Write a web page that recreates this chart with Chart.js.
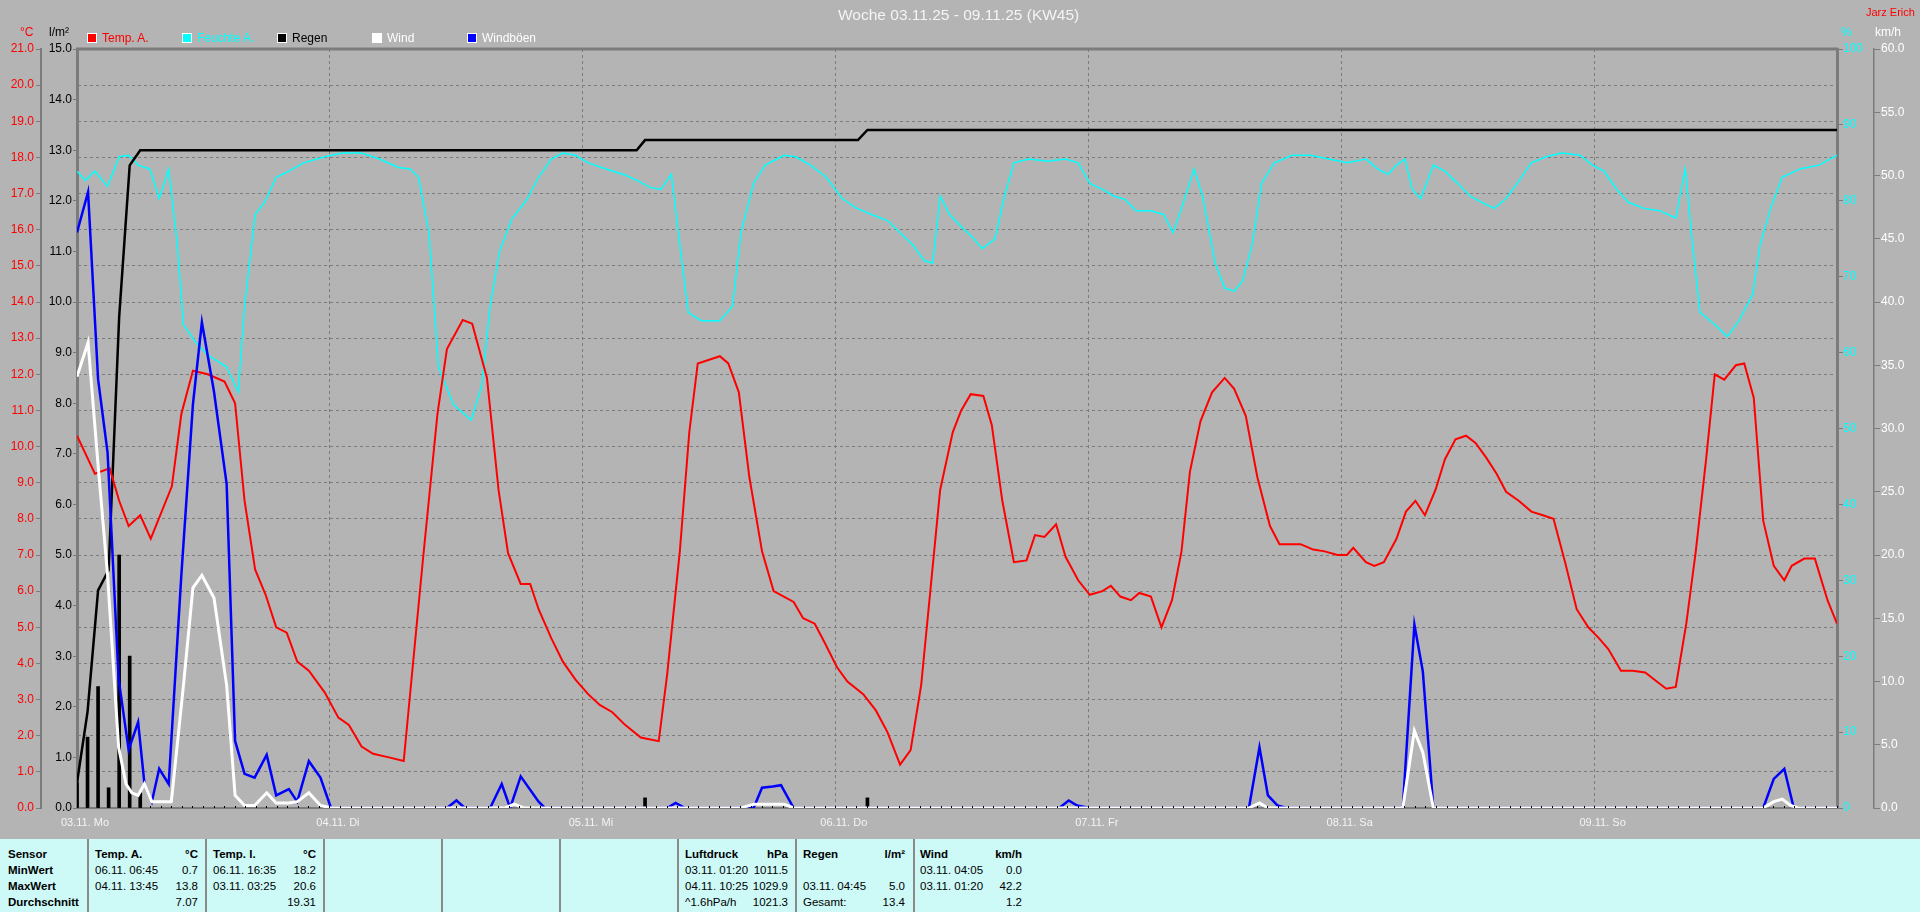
<!DOCTYPE html>
<html>
<head>
<meta charset="utf-8">
<title>Woche 03.11.25 - 09.11.25 (KW45)</title>
<script src="https://cdn.jsdelivr.net/npm/chart.js@4.4.1/dist/chart.umd.min.js"></script>
<style>
  body { margin: 0; background: #b4b4b4; overflow: hidden; }
  #wrap {
    position: relative; width: 1920px; height: 912px; background: #b4b4b4;
    font-family: "Liberation Sans", Arial, sans-serif;
  }
  #chart { position: absolute; left: 0; top: 0; }
  .t { position: absolute; white-space: pre; font-size: 12px; line-height: 16px; }
  .sq { position: absolute; width: 8px; height: 8px; border: 1px solid #fff; }
  #table { position: absolute; left: 0; top: 839px; width: 1920px; height: 73px; background: #cdf9f6; }
  #table .t { font-size: 11.5px; color: #000; }
  .sep { position: absolute; top: 0; width: 2px; height: 73px; background: #8a8a8a; }
  .b { font-weight: bold; }
</style>
</head>
<body>
<div id="wrap">
  <canvas id="chart" width="1920" height="839"></canvas>
  <div class="t" style="left:838px;top:6px;font-size:15.5px;line-height:18px;color:#f4f4f4">Woche 03.11.25 - 09.11.25 (KW45)</div>
  <div class="t" style="left:1866px;top:4px;font-size:11px;color:#ff0000">Jarz Erich</div>
  <div class="t" style="left:20px;top:24px;color:#ff0000">°C</div>
  <div class="t" style="left:49px;top:24px;color:#000">l/m²</div>
  <div class="t" style="left:1841px;top:24px;color:#00ffff">%</div>
  <div class="t" style="left:1875px;top:24px;color:#ffffff">km/h</div>
  <div id="legend"></div>
  <div id="table"></div>
</div>
<script>
// x values are hours since 03.11. 00:00
const dayLabels = ["03.11. Mo", "04.11. Di", "05.11. Mi", "06.11. Do", "07.11. Fr", "08.11. Sa", "09.11. So"];

// Temp. A. (°C)
const tempHours = [
  0, 1.7, 3.1, 4.0, 4.9, 6.0, 7.0, 9.0, 9.9, 11.0,
  12.4, 14.0, 15.0, 15.9, 16.9, 17.9, 18.9, 19.9, 20.9, 22.0,
  23.5, 24.8, 25.8, 27.0, 28.1, 29.6, 31.0, 32.8, 34.2, 35.1,
  36.6, 37.5, 38.9, 40.0, 40.9, 42.1, 43.0, 43.8, 45.0, 46.1,
  47.3, 48.5, 49.6, 50.8, 52.0, 53.5, 54.3, 55.2, 56.0, 57.2,
  58.1, 58.9, 61.0, 61.8, 62.8, 63.8, 65.0, 66.1, 68.0, 68.9,
  70.0, 70.9, 72.1, 73.1, 74.6, 75.8, 76.9, 78.1, 79.1, 80.1,
  81.0, 81.9, 83.1, 83.9, 84.8, 86.0, 86.8, 87.8, 88.9, 90.1,
  90.9, 91.8, 92.9, 93.8, 95.0, 96.1, 97.3, 98.1, 99.0, 100.0,
  100.8, 101.9, 102.9, 103.9, 104.8, 105.6, 106.6, 107.7, 108.9, 109.8,
  110.9, 112.0, 113.2, 114.1, 115.3, 116.1, 117.3, 118.4, 119.6, 120.5,
  121.1, 122.3, 123.1, 124.0, 125.2, 126.1, 127.0, 127.9, 128.9, 129.8,
  130.8, 131.8, 132.7, 133.7, 134.7, 135.6, 136.8, 138.0, 139.1, 140.1,
  141.2, 142.3, 143.4, 144.4, 145.3, 146.5, 147.6, 148.8, 149.9, 150.8,
  151.7, 152.7, 153.6, 154.6, 155.4, 156.3, 157.4, 158.2, 159.1, 160.0,
  161.0, 162.0, 162.7, 163.9, 164.9, 166.1, 167.0
];
const tempValues = [
  10.3, 9.25, 9.4, 8.5, 7.8, 8.1, 7.45, 8.9, 10.9, 12.1,
  12.0, 11.8, 11.2, 8.5, 6.6, 5.9, 5.0, 4.85, 4.05, 3.8,
  3.2, 2.5, 2.3, 1.7, 1.5, 1.4, 1.3, 6.8, 10.9, 12.7,
  13.5, 13.4, 11.9, 8.8, 7.05, 6.2, 6.2, 5.5, 4.7, 4.05,
  3.55, 3.15, 2.85, 2.65, 2.3, 1.95, 1.9, 1.85, 3.7, 7.1,
  10.4, 12.3, 12.5, 12.3, 11.5, 9.15, 7.1, 6.0, 5.7, 5.25,
  5.1, 4.6, 3.9, 3.5, 3.15, 2.7, 2.1, 1.2, 1.6, 3.4,
  6.1, 8.8, 10.4, 11.0, 11.45, 11.4, 10.6, 8.5, 6.8, 6.85,
  7.55, 7.5, 7.85, 6.95, 6.3, 5.9, 6.0, 6.15, 5.85, 5.75,
  5.95, 5.85, 5.0, 5.75, 7.1, 9.3, 10.7, 11.5, 11.9, 11.6,
  10.85, 9.15, 7.8, 7.3, 7.3, 7.3, 7.15, 7.1, 7.0, 7.0,
  7.2, 6.8, 6.7, 6.8, 7.45, 8.2, 8.5, 8.1, 8.8, 9.65,
  10.2, 10.3, 10.1, 9.7, 9.25, 8.75, 8.5, 8.2, 8.1, 8.0,
  6.8, 5.5, 5.0, 4.7, 4.4, 3.8, 3.8, 3.75, 3.5, 3.3,
  3.35, 5.1, 7.1, 9.7, 12.0, 11.85, 12.25, 12.3, 11.35, 7.95,
  6.7, 6.3, 6.7, 6.9, 6.9, 5.75, 5.1
];

// Feuchte A. (%)
const humHours = [
  0, 0.8, 1.7, 2.9, 4.0, 4.9, 5.8, 6.9, 7.8, 8.7,
  9.5, 10.1, 11.3, 12.4, 14.2, 15.3, 15.9, 16.9, 17.8, 18.9,
  20.1, 21.5, 23.5, 25.2, 27.0, 28.7, 30.5, 31.6, 32.4, 33.4,
  34.3, 35.7, 37.4, 38.4, 39.2, 40.1, 41.3, 42.7, 43.8, 45.0,
  46.1, 47.3, 48.5, 50.2, 52.0, 53.3, 54.3, 55.4, 56.4, 57.2,
  58.0, 59.2, 61.0, 62.2, 63.0, 64.2, 65.3, 67.1, 68.2, 69.6,
  71.1, 72.6, 74.0, 75.4, 76.9, 78.1, 79.3, 80.4, 81.2, 81.9,
  82.8, 83.9, 85.1, 85.9, 87.1, 88.0, 88.9, 90.3, 92.1, 93.8,
  95.0, 96.1, 97.3, 98.4, 99.4, 100.5, 101.9, 103.1, 104.0, 104.8,
  106.0, 106.8, 108.0, 108.9, 109.8, 110.6, 111.5, 112.4, 113.6, 115.3,
  117.0, 118.8, 120.5, 122.3, 123.4, 124.4, 125.2, 126.0, 126.7, 127.5,
  128.7, 129.8, 131.0, 132.2, 133.3, 134.5, 135.6, 136.8, 138.0, 139.4,
  140.9, 142.6, 143.8, 144.9, 146.1, 147.2, 148.7, 150.2, 151.7, 152.6,
  153.3, 154.0, 155.4, 156.6, 157.7, 159.0, 159.7, 160.7, 161.8, 163.5,
  165.3, 167.0
];
const humValues = [
  83.9, 82.7, 83.9, 81.9, 85.8, 86.0, 84.7, 84.2, 80.3, 84.2,
  74.5, 63.7, 61.3, 59.7, 58.1, 54.8, 66.1, 78.2, 79.8, 83.1,
  83.9, 85.0, 85.8, 86.3, 86.3, 85.5, 84.4, 84.2, 83.1, 75.8,
  58.1, 53.2, 51.1, 55.6, 66.1, 73.4, 77.7, 80.2, 83.1, 85.5,
  86.3, 86.0, 85.0, 84.2, 83.4, 82.6, 81.8, 81.5, 83.5, 74.2,
  65.3, 64.2, 64.2, 66.1, 75.8, 82.3, 84.7, 86.0, 85.8, 84.7,
  83.1, 80.3, 79.0, 78.2, 77.4, 75.8, 74.2, 72.1, 71.8, 80.6,
  78.2, 76.6, 75.0, 73.7, 75.0, 80.6, 85.0, 85.5, 85.2, 85.5,
  85.0, 82.3, 81.5, 80.6, 80.2, 78.7, 78.7, 78.2, 75.8, 79.0,
  84.2, 80.6, 71.8, 68.5, 68.1, 69.4, 74.2, 82.3, 85.0, 86.0,
  86.0, 85.5, 85.0, 85.5, 84.2, 83.5, 84.7, 85.5, 81.5, 80.3,
  84.7, 83.9, 82.3, 80.6, 79.8, 79.0, 80.3, 82.6, 85.0, 85.8,
  86.3, 86.0, 84.7, 83.9, 81.5, 79.8, 79.0, 78.7, 77.7, 84.2,
  74.2, 65.3, 63.7, 62.1, 64.2, 67.7, 74.2, 79.0, 83.1, 84.2,
  84.7, 86.0
];

// Regen: hourly amount (bars) and running total (line), l/m²
const rainBarHours = [0, 1, 2, 3, 4, 5, 6, 53.9, 75.0];
const rainBarValues = [0.5, 1.4, 2.4, 0.4, 5.0, 3.0, 0.3, 0.2, 0.2];
const rainSumHours = [0, 1, 2, 3, 4, 5, 6, 53.1, 53.9, 74.1, 75.0, 167];
const rainSumValues = [0.5, 1.9, 4.3, 4.7, 9.7, 12.7, 13.0, 13.0, 13.2, 13.2, 13.4, 13.4];

// Wind (km/h)
const windHours = [
  0, 1.05, 2.0, 2.9, 3.95, 4.65, 5.2, 5.8, 6.4, 7.1,
  8.95, 10.1, 11.0, 11.85, 13.0, 14.2, 15.0, 15.9, 16.85, 18.0,
  18.9, 20.1, 20.9, 22.0, 23.1, 24.1, 40.6, 41.5, 42.4, 63.0,
  64.2, 67.1, 68.0, 111.2, 112.2, 113.0, 125.8, 126.9, 127.7, 128.7,
  160.0, 161.0, 161.8, 162.6, 163.3, 167.0
];
const windValues = [
  34.1, 36.8, 27.1, 18.4, 4.8, 1.9, 1.2, 1.0, 1.9, 0.5,
  0.5, 9.7, 17.4, 18.4, 16.6, 9.7, 1.0, 0.2, 0.2, 1.2,
  0.4, 0.4, 0.5, 1.2, 0.2, 0, 0, 0.3, 0, 0,
  0.3, 0.3, 0, 0, 0.4, 0, 0, 6.1, 4.4, 0,
  0, 0.5, 0.7, 0.2, 0, 0
];

// Windböen (km/h)
const gustHours = [
  0, 1.05, 2.0, 2.9, 3.95, 4.9, 5.8, 6.4, 7.1, 7.8,
  8.7, 9.9, 11.0, 11.85, 13.0, 14.2, 15.0, 15.9, 16.85, 18.0,
  18.9, 20.1, 20.9, 22.0, 23.1, 24.1, 35.1, 36.0, 36.8, 39.2,
  40.3, 41.1, 42.1, 43.8, 44.4, 56.0, 56.8, 57.7, 64.2, 65.0,
  66.0, 66.8, 68.0, 93.2, 94.1, 94.9, 96.1, 111.2, 112.2, 113.0,
  113.9, 114.8, 125.8, 126.9, 127.7, 128.7, 160.0, 161.0, 162.0, 162.9,
  167.0
];
const gustValues = [
  45.5, 48.7, 33.9, 28.1, 10.2, 4.6, 6.8, 1.9, 0.5, 3.1,
  1.9, 18.4, 31.9, 38.4, 32.9, 25.6, 5.3, 2.7, 2.4, 4.2,
  1.0, 1.5, 0.5, 3.7, 2.4, 0, 0, 0.6, 0, 0,
  1.9, 0, 2.5, 0.5, 0, 0, 0.4, 0, 0, 1.6,
  1.7, 1.8, 0, 0, 0.6, 0.2, 0, 0, 4.8, 1.0,
  0.2, 0, 0, 14.5, 10.8, 0, 0, 2.3, 3.1, 0,
  0
];

const legendItems = [
  {label: "Temp. A.", color: "#ff0000", text: "#ff0000"},
  {label: "Feuchte A.", color: "#00ffff", text: "#00ffff"},
  {label: "Regen", color: "#000000", text: "#000000"},
  {label: "Wind", color: "#ffffff", text: "#ffffff"},
  {label: "Windböen", color: "#0000ff", text: "#ffffff"}
];

const gridGray = "#7c7c7c";

function pts(xs, ys) {
  return xs.map((x, i) => ({x: x, y: ys[i]}));
}

// legend row
const legend = document.getElementById("legend");
legendItems.forEach((item, i) => {
  const left = 87 + i * 95;
  legend.innerHTML += `<div class="sq" style="left:${left}px;top:33px;background:${item.color}"></div>` +
    `<div class="t" style="left:${left + 15}px;top:30px;color:${item.text}">${item.label}</div>`;
});

// top frame line of the plot
const frame = {
  id: "frame",
  beforeDatasetsDraw(chart) {
    const a = chart.chartArea;
    const c = chart.ctx;
    c.save();
    c.strokeStyle = gridGray;
    c.lineWidth = 3;
    c.beginPath();
    c.moveTo(a.left - 1, a.top);
    c.lineTo(a.right + 1, a.top);
    c.stroke();
    c.restore();
  }
};

Chart.defaults.font.family = '"Liberation Sans", Arial, sans-serif';
Chart.defaults.font.size = 12;

new Chart(document.getElementById("chart"), {
  type: "line",
  data: {
    datasets: [
      {label: "Wind", data: pts(windHours, windValues), borderColor: "#ffffff", borderWidth: 3, yAxisID: "yW"},
      {label: "Windböen", data: pts(gustHours, gustValues), borderColor: "#0000ff", borderWidth: 2.5, yAxisID: "yW"},
      {label: "Temp. A.", data: pts(tempHours, tempValues), borderColor: "#ff0000", borderWidth: 2, yAxisID: "yT"},
      {label: "Regen", data: pts(rainSumHours, rainSumValues), borderColor: "#000000", borderWidth: 2.5, yAxisID: "yR"},
      {type: "bar", label: "Regen/h", data: pts(rainBarHours, rainBarValues), backgroundColor: "#000000",
        barThickness: 3, yAxisID: "yR"},
      {label: "Feuchte A.", data: pts(humHours, humValues), borderColor: "#00ffff", borderWidth: 1.5, yAxisID: "yH"}
    ]
  },
  options: {
    responsive: false,
    animation: false,
    layout: {padding: {top: 49, left: 0, right: 0, bottom: 0}},
    elements: {point: {radius: 0}, line: {tension: 0, fill: false}},
    plugins: {legend: {display: false}, tooltip: {enabled: false}},
    scales: {
      // hourly marks sitting on the base line, drawn above the data
      xh: {
        type: "linear", position: "bottom", weight: 0, min: 0, max: 167, offset: false,
        afterFit: s => { s.height = 0; },
        ticks: {display: false, stepSize: 1, autoSkip: false, maxRotation: 0},
        grid: {drawOnChartArea: false, tickLength: -2, tickColor: "#000000", z: 1},
        border: {display: false}
      },
      x: {
        type: "linear", position: "bottom", weight: 1, min: 0, max: 167, offset: false,
        afterFit: s => { s.height = 31; },
        ticks: {
          stepSize: 24, autoSkip: false, maxRotation: 0, minRotation: 0,
          color: "#f4f4f4", font: {size: 11}, padding: 8, labelOffset: 8,
          callback: v => dayLabels[v / 24]
        },
        grid: {
          offset: false, drawTicks: false,
          color: c => (c.tick && c.tick.value > 0) ? gridGray : "rgba(0,0,0,0)"
        },
        border: {color: gridGray, width: 2, dash: [3, 3]}
      },
      yT: {
        position: "left", weight: 2, min: 0, max: 21,
        afterFit: s => { s.width = 41; },
        ticks: {stepSize: 1, color: "#ff0000", padding: 2, callback: v => v.toFixed(1)},
        grid: {color: gridGray, tickColor: gridGray, tickLength: 5, tickBorderDash: []},
        border: {color: gridGray, width: 2, dash: [3, 3]}
      },
      yR: {
        position: "left", weight: 1, min: 0, max: 15,
        afterFit: s => { s.width = 36; },
        ticks: {stepSize: 1, color: "#000000", padding: 1, callback: v => v.toFixed(1)},
        grid: {drawOnChartArea: false, tickColor: gridGray, tickLength: 4},
        border: {color: gridGray, width: 3}
      },
      yH: {
        position: "right", weight: 1, min: 0, max: 100,
        afterFit: s => { s.width = 37; },
        ticks: {stepSize: 10, color: "#00ffff", padding: 0, callback: v => String(v)},
        grid: {drawOnChartArea: false, tickColor: gridGray, tickLength: 6},
        border: {color: gridGray, width: 3}
      },
      yW: {
        position: "right", weight: 2, min: 0, max: 60,
        afterFit: s => { s.width = 46; },
        ticks: {stepSize: 5, color: "#ffffff", padding: 1, callback: v => v.toFixed(1)},
        grid: {drawOnChartArea: false, tickColor: gridGray, tickLength: 6},
        border: {color: gridGray, width: 1.5}
      }
    }
  },
  plugins: [frame]
});

// statistics table under the chart
const sepX = [87, 205, 323, 441, 559, 677, 795, 913];
const rowNames = ["Sensor", "MinWert", "MaxWert", "Durchschnitt"];
const statCols = [
  {x: 95, r: 198, head: ["Temp. A.", "°C"], rows: [["06.11. 06:45", "0.7"], ["04.11. 13:45", "13.8"], ["", "7.07"]]},
  {x: 213, r: 316, head: ["Temp. I.", "°C"], rows: [["06.11. 16:35", "18.2"], ["03.11. 03:25", "20.6"], ["", "19.31"]]},
  {x: 685, r: 788, head: ["Luftdruck", "hPa"], rows: [["03.11. 01:20", "1011.5"], ["04.11. 10:25", "1029.9"], ["^1.6hPa/h", "1021.3"]]},
  {x: 803, r: 905, head: ["Regen", "l/m²"], rows: [["", ""], ["03.11. 04:45", "5.0"], ["Gesamt:", "13.4"]]},
  {x: 920, r: 1022, head: ["Wind", "km/h"], rows: [["03.11. 04:05", "0.0"], ["03.11. 01:20", "42.2"], ["", "1.2"]]}
];
const table = document.getElementById("table");
let html = "";
sepX.forEach(x => { html += `<div class="sep" style="left:${x}px"></div>`; });
rowNames.forEach((name, i) => {
  html += `<div class="t b" style="left:8px;top:${7 + i * 16}px">${name}</div>`;
});
statCols.forEach(col => {
  html += `<div class="t b" style="left:${col.x}px;top:7px">${col.head[0]}</div>`;
  html += `<div class="t b" style="right:${1920 - col.r}px;top:7px">${col.head[1]}</div>`;
  col.rows.forEach((row, i) => {
    const top = 23 + i * 16;
    html += `<div class="t" style="left:${col.x}px;top:${top}px">${row[0]}</div>`;
    html += `<div class="t" style="right:${1920 - col.r}px;top:${top}px">${row[1]}</div>`;
  });
});
table.innerHTML = html;
</script>
</body>
</html>
